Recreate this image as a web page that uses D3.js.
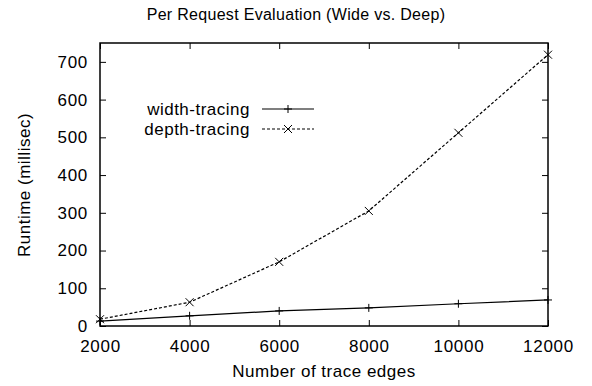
<!DOCTYPE html>
<html>
<head>
<meta charset="utf-8">
<script src="https://cdn.jsdelivr.net/npm/d3@7"></script>
<style>
  body { margin: 0; background: #fff; }
  text { font-family: "Liberation Sans", Arial, sans-serif; fill: #000; }
</style>
</head>
<body>
<svg></svg>
<script>
const size = {w: 592, h: 386};
const margin = {t: 43, r: 44, b: 60, l: 100};

// chart values
const edges = [2000, 4000, 6000, 8000, 10000, 12000];
const widthTracing = [13, 27, 40, 48, 59, 69];
const depthTracing = [18, 63, 170, 305, 512, 719];
const xTicks = [2000, 4000, 6000, 8000, 10000, 12000];
const yTicks = [0, 100, 200, 300, 400, 500, 600, 700];
const seriesNames = ['width-tracing', 'depth-tracing'];

const fontSize = 17;
const svg = d3.select('svg')
    .attr('width', size.w)
    .attr('height', size.h);

const x = d3.scaleLinear()
    .domain([2000, 12000])
    .range([margin.l, size.w - margin.r]);
const y = d3.scaleLinear()
    .domain([0, 750])
    .range([size.h - margin.b, margin.t]);

const tick = 6;
const g = svg.append('g');

// axes (gnuplot style, ticks mirrored inward)
const axBottom = g.append('g')
    .attr('transform', 'translate(0,' + y(0) + ')')
    .call(d3.axisBottom(x).tickValues(xTicks).tickFormat(d3.format('d'))
        .tickSizeInner(-tick).tickSizeOuter(0).tickPadding(14));
const axTop = g.append('g')
    .attr('transform', 'translate(0,' + margin.t + ')')
    .call(d3.axisTop(x).tickValues(xTicks).tickSizeInner(-tick).tickSizeOuter(0).tickFormat(''));
const axLeft = g.append('g')
    .attr('transform', 'translate(' + margin.l + ',0)')
    .call(d3.axisLeft(y).tickValues(yTicks).tickFormat(d3.format('d'))
        .tickSizeInner(-tick).tickSizeOuter(0).tickPadding(12));
const axRight = g.append('g')
    .attr('transform', 'translate(' + (size.w - margin.r) + ',0)')
    .call(d3.axisRight(y).tickValues(yTicks).tickSizeInner(-tick).tickSizeOuter(0).tickFormat(''));

[axBottom, axTop, axLeft, axRight].forEach(a => {
    a.select('.domain').remove();
    a.selectAll('line').attr('stroke', '#000');
    a.selectAll('text').attr('font-size', fontSize)
        .style('font-family', '"Liberation Sans", Arial, sans-serif')
        .style('letter-spacing', '0.7px');
});

g.append('rect')
    .attr('x', margin.l).attr('y', margin.t)
    .attr('width', size.w - margin.l - margin.r)
    .attr('height', y(0) - margin.t)
    .attr('fill', 'none').attr('stroke', '#000').attr('stroke-width', 1.5);

// series
const line = d3.line().x((d, i) => x(edges[i])).y(d => y(d));

g.append('path').datum(widthTracing)
    .attr('d', line).attr('fill', 'none').attr('stroke', '#000').attr('stroke-width', 1.2);
g.append('path').datum(depthTracing)
    .attr('d', line).attr('fill', 'none').attr('stroke', '#000').attr('stroke-width', 1.2)
    .attr('stroke-dasharray', '3,2');

const m = 4;
function plus(sel, cx, cy) {
    sel.append('path').attr('d', `M${cx - m},${cy}H${cx + m}M${cx},${cy - m}V${cy + m}`)
        .attr('stroke', '#000').attr('stroke-width', 1);
}
function cross(sel, cx, cy) {
    sel.append('path').attr('d', `M${cx - m},${cy - m}L${cx + m},${cy + m}M${cx - m},${cy + m}L${cx + m},${cy - m}`)
        .attr('stroke', '#000').attr('stroke-width', 1);
}
widthTracing.forEach((v, i) => plus(g, x(edges[i]), y(v)));
depthTracing.forEach((v, i) => cross(g, x(edges[i]), y(v)));

// legend
const lg = g.append('g');
const legY = [109, 129];
seriesNames.forEach((name, i) => {
    lg.append('text').attr('x', 250).attr('y', legY[i]).attr('dy', '0.35em')
        .attr('text-anchor', 'end').attr('font-size', fontSize)
        .style('letter-spacing', '0.5px').text(name);
    lg.append('line').attr('x1', 262).attr('x2', 314).attr('y1', legY[i]).attr('y2', legY[i])
        .attr('stroke', '#000').attr('stroke-width', 1.2)
        .attr('stroke-dasharray', i === 1 ? '3,2' : null);
    (i === 0 ? plus : cross)(lg, 288, legY[i]);
});

// labels
svg.append('text').attr('x', 296).attr('y', 20).attr('text-anchor', 'middle')
    .attr('font-size', 16).style('letter-spacing', '0.3px')
    .text('Per Request Evaluation (Wide vs. Deep)');
svg.append('text').attr('x', 324).attr('y', 377).attr('text-anchor', 'middle')
    .attr('font-size', fontSize).style('letter-spacing', '0.5px').text('Number of trace edges');
svg.append('text').attr('transform', 'translate(30,' + 185 + ') rotate(-90)')
    .attr('text-anchor', 'middle').attr('font-size', fontSize)
    .style('letter-spacing', '0.5px').text('Runtime (millisec)');
</script>
</body>
</html>
